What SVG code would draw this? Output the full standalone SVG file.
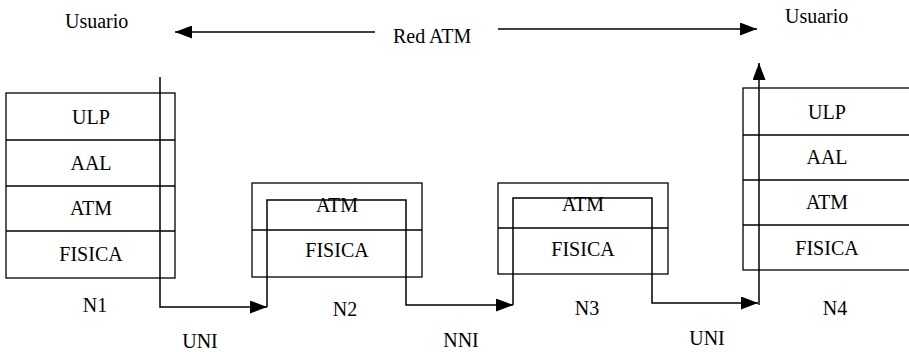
<svg xmlns="http://www.w3.org/2000/svg" width="909" height="352" viewBox="0 0 909 352">
<style>
text{font-family:"Liberation Serif","DejaVu Serif","Times New Roman",serif;font-size:20px;fill:#000}
.c{text-anchor:middle}
.box{fill:none;stroke:#000;stroke-width:1.3}
.ln{fill:none;stroke:#000;stroke-width:1.5}
</style>
<defs>
<marker id="ah" viewBox="0 0 17 13" refX="17" refY="6.5" markerWidth="17" markerHeight="13" markerUnits="userSpaceOnUse" orient="auto">
<path d="M0,0 L17,6.5 L0,13 Z" fill="#000"/>
</marker>
</defs>
<rect width="909" height="352" fill="#fff"/>
<g id="labels" font-family="Liberation Serif, DejaVu Serif, serif">
<text x="65" y="28">Usuario</text>
<text x="785" y="23">Usuario</text>
<text x="393" y="43">Red ATM</text>
<text class="c" x="95" y="312">N1</text>
<text class="c" x="345" y="316">N2</text>
<text class="c" x="587" y="315">N3</text>
<text class="c" x="835" y="315">N4</text>
<text class="c" x="200" y="348">UNI</text>
<text class="c" x="461" y="347">NNI</text>
<text class="c" x="707" y="345">UNI</text>
</g>
<g id="N1" font-family="Liberation Serif, DejaVu Serif, serif">
<rect class="box" x="6" y="93" width="169" height="185"/>
<line class="box" x1="6" y1="140" x2="175" y2="140"/>
<line class="box" x1="6" y1="186" x2="175" y2="186"/>
<line class="box" x1="6" y1="231" x2="175" y2="231"/>
<text class="c" x="91" y="124">ULP</text>
<text class="c" x="91" y="170">AAL</text>
<text class="c" x="91" y="215">ATM</text>
<text class="c" x="91" y="261">FISICA</text>
</g>
<g id="N2" font-family="Liberation Serif, DejaVu Serif, serif">
<rect class="box" x="252" y="183" width="170" height="94"/>
<line class="box" x1="252" y1="230" x2="422" y2="230"/>
<text class="c" x="337" y="212">ATM</text>
<text class="c" x="337" y="257">FISICA</text>
</g>
<g id="N3" font-family="Liberation Serif, DejaVu Serif, serif">
<rect class="box" x="498" y="183" width="170" height="91"/>
<line class="box" x1="498" y1="228" x2="668" y2="228"/>
<text class="c" x="583" y="211">ATM</text>
<text class="c" x="583" y="256">FISICA</text>
</g>
<g id="N4" font-family="Liberation Serif, DejaVu Serif, serif">
<rect class="box" x="743" y="88" width="170" height="182"/>
<line class="box" x1="743" y1="135" x2="913" y2="135"/>
<line class="box" x1="743" y1="180" x2="913" y2="180"/>
<line class="box" x1="743" y1="225" x2="913" y2="225"/>
<text class="c" x="827" y="119">ULP</text>
<text class="c" x="827" y="164">AAL</text>
<text class="c" x="827" y="209">ATM</text>
<text class="c" x="827" y="255">FISICA</text>
</g>
<g id="connectors">
<line class="ln" x1="375" y1="32" x2="175" y2="32" marker-end="url(#ah)"/>
<line class="ln" x1="498" y1="29" x2="757" y2="29" marker-end="url(#ah)"/>
<polyline class="ln" points="160,77 160,307 267,307" marker-end="url(#ah)"/>
<polyline class="ln" points="267,307 267,200 406,200 406,305 513,305" marker-end="url(#ah)"/>
<polyline class="ln" points="513,305 513,198 652,198 652,303 758,303" marker-end="url(#ah)"/>
<line class="ln" x1="759" y1="305" x2="759" y2="63" marker-end="url(#ah)"/>
</g>
</svg>
